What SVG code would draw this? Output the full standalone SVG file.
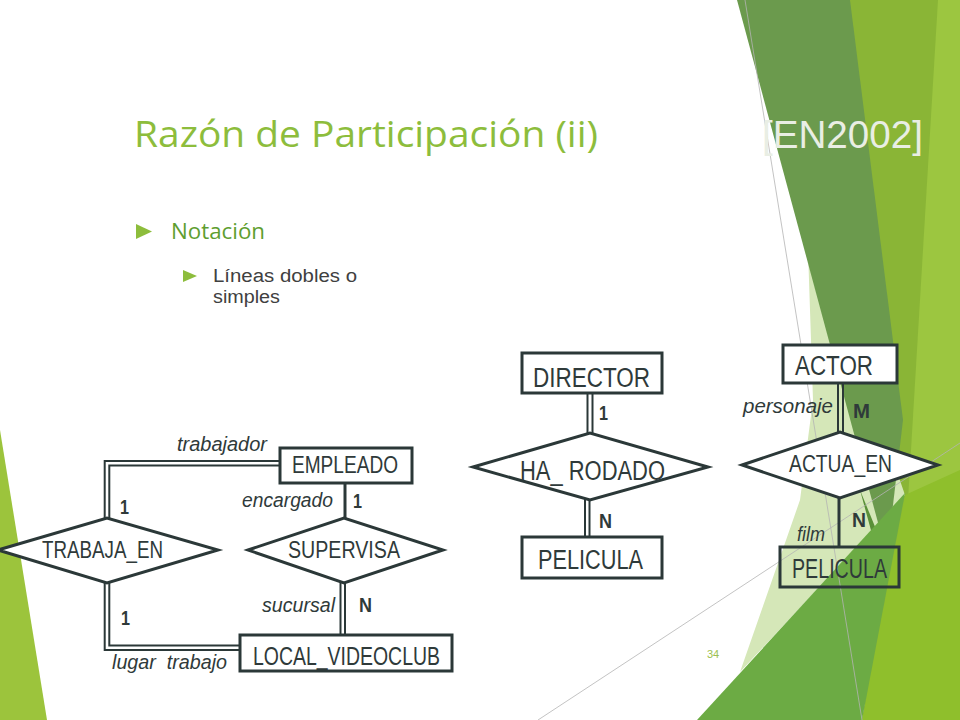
<svg xmlns="http://www.w3.org/2000/svg" width="960" height="720" viewBox="0 0 960 720">
<style>
.box{fill:#fff;stroke:#2b3838;stroke-width:3}
.open{fill:none;stroke:#2b3838;stroke-width:3}
.dia{fill:#fff;stroke:#2b3838;stroke-width:3;stroke-linejoin:miter}
.dbl{fill:none;stroke:#2b3838;stroke-width:2}
.sgl{fill:none;stroke:#2b3838;stroke-width:3}
.lbl{font-family:"Liberation Sans",Arial,sans-serif;fill:#2f3a3a}
.role{font-size:20px;font-style:italic}
.card{font-size:21px;font-weight:bold}
.thin{stroke:#b4b4b4;stroke-width:0.8;fill:none}
</style>
<rect width="960" height="720" fill="#fff"/>
<g id="background">
<polygon points="848,0 960,0 960,720 862,720 887,556" fill="#8ab536"/>
<polygon points="938,0 960,0 960,620 908,500" fill="#9cc640"/>
<polygon points="905,495 960,470 960,720 862,720" fill="#8fbf2c"/>
<polygon points="808,250 855,350 905,495 740,672 800,500 813,400" fill="#d5e7b8"/>
<polygon points="737,0 850,0 903,420 887,556" fill="#6b9a4d"/>
<polygon points="860,490 887,556 875,545" fill="#5a9038"/>
<polygon points="697,720 905,493 862,720" fill="#6cab44"/>
<polygon points="0,430 47,720 0,720" fill="#9cc43c"/>
<line class="thin" x1="745" y1="0" x2="862" y2="720"/>
<line class="thin" x1="538" y1="720" x2="960" y2="443"/>
</g>
<g id="title">
<text x="134" y="147" font-family="'Open Sans',sans-serif" font-size="36" fill="#8dbd3c" textLength="464" lengthAdjust="spacingAndGlyphs">Razón de Participación (ii)</text>
<text x="762" y="148" font-family="'Liberation Sans',Arial,sans-serif" font-size="39" fill="#e9eee4" textLength="161" lengthAdjust="spacingAndGlyphs">[EN2002]</text>
</g>
<g id="bullets">
<polygon points="136,224 152,231.5 136,239" fill="#8dbd3c"/>
<text x="171" y="239" font-family="'Open Sans',sans-serif" font-size="21" fill="#5e9e30" textLength="94" lengthAdjust="spacingAndGlyphs">Notación</text>
<polygon points="183,270 197,276 183,282" fill="#8dbd3c"/>
<text x="213" y="282" font-family="'Liberation Sans',sans-serif" font-size="18" fill="#404040" textLength="144" lengthAdjust="spacingAndGlyphs">Líneas dobles o</text>
<text x="213" y="303" font-family="'Liberation Sans',sans-serif" font-size="18" fill="#404040" textLength="67" lengthAdjust="spacingAndGlyphs">simples</text>
</g>
<g id="connectors">
<path class="dbl" d="M282,461 H104.7 V525"/>
<path class="dbl" d="M282,465.5 H109.3 V525"/>
<path class="dbl" d="M104.7,576 V650 H242"/>
<path class="dbl" d="M109.3,576 V645.5 H242"/>
<path class="sgl" d="M345,481 V522"/>
<path class="dbl" d="M340.5,576 V637"/>
<path class="dbl" d="M345,576 V637"/>
<path class="dbl" d="M587.5,391 V440"/>
<path class="dbl" d="M592.5,391 V440"/>
<path class="dbl" d="M585,494 V539"/>
<path class="dbl" d="M589.5,494 V539"/>
<path class="dbl" d="M838,381 V438"/>
<path class="dbl" d="M843,381 V438"/>
<path class="sgl" d="M839,494 V547"/>
</g>
<g id="labels" class="lbl">
<text class="role" x="177" y="451" textLength="90" lengthAdjust="spacingAndGlyphs">trabajador</text>
<text class="card" x="120" y="514" textLength="9" lengthAdjust="spacingAndGlyphs">1</text>
<text class="role" x="242" y="507" textLength="91" lengthAdjust="spacingAndGlyphs">encargado</text>
<text class="card" x="353" y="508" textLength="9" lengthAdjust="spacingAndGlyphs">1</text>
<text class="role" x="262" y="612" textLength="73" lengthAdjust="spacingAndGlyphs">sucursal</text>
<text class="card" x="359" y="612" textLength="13" lengthAdjust="spacingAndGlyphs">N</text>
<text class="card" x="121" y="625" textLength="9" lengthAdjust="spacingAndGlyphs">1</text>
<text class="role" x="112" y="669" textLength="115" lengthAdjust="spacingAndGlyphs" style="white-space:pre">lugar  trabajo</text>
<text class="card" x="599" y="420" textLength="9" lengthAdjust="spacingAndGlyphs">1</text>
<text class="card" x="599" y="528" textLength="13" lengthAdjust="spacingAndGlyphs">N</text>
<text class="role" x="743" y="413" textLength="90" lengthAdjust="spacingAndGlyphs">personaje</text>
<text class="card" x="853" y="418" textLength="17" lengthAdjust="spacingAndGlyphs">M</text>
<text class="card" x="852" y="527" textLength="14" lengthAdjust="spacingAndGlyphs">N</text>
<text class="role" x="797" y="541" font-size="19" textLength="28" lengthAdjust="spacingAndGlyphs">film</text>
</g>
<g id="EMPLEADO">
<rect class="box" x="280" y="448" width="132" height="35"/>
<text class="lbl" font-size="23" x="292" y="473" textLength="106" lengthAdjust="spacingAndGlyphs">EMPLEADO</text>
</g>
<g id="TRABAJA_EN">
<polygon class="dia" points="-2,550 107,518 218,550 107,583"/>
<text class="lbl" font-size="24" x="42" y="558" textLength="121" lengthAdjust="spacingAndGlyphs">TRABAJA_EN</text>
</g>
<g id="SUPERVISA">
<polygon class="dia" points="248,550 344,518 443,550 344,583"/>
<text class="lbl" font-size="24" x="288" y="558" textLength="112" lengthAdjust="spacingAndGlyphs">SUPERVISA</text>
</g>
<g id="LOCAL_VIDEOCLUB">
<rect class="box" x="240" y="635" width="212" height="36"/>
<text class="lbl" font-size="25" x="253" y="665" textLength="187" lengthAdjust="spacingAndGlyphs">LOCAL_VIDEOCLUB</text>
</g>
<g id="DIRECTOR">
<rect class="box" x="522" y="353" width="140" height="40"/>
<text class="lbl" font-size="27" x="533" y="387" textLength="117" lengthAdjust="spacingAndGlyphs">DIRECTOR</text>
</g>
<g id="HA_RODADO">
<polygon class="dia" points="473,467 590,433 708,467 590,500"/>
<text class="lbl" font-size="27" x="520" y="480" textLength="145" lengthAdjust="spacingAndGlyphs">HA_ RODADO</text>
</g>
<g id="PELICULA_1">
<rect class="box" x="522" y="537" width="140" height="41"/>
<text class="lbl" font-size="27" x="538" y="569" textLength="105" lengthAdjust="spacingAndGlyphs">PELICULA</text>
</g>
<g id="ACTOR">
<rect class="box" x="783" y="345" width="114" height="38"/>
<text class="lbl" font-size="27" x="795" y="375" textLength="78" lengthAdjust="spacingAndGlyphs">ACTOR</text>
</g>
<g id="ACTUA_EN">
<polygon class="dia" points="742,465 840,432 938,465 840,498"/>
<text class="lbl" font-size="23" x="789" y="472" textLength="103" lengthAdjust="spacingAndGlyphs">ACTUA_EN</text>
</g>
<g id="PELICULA_2">
<rect class="open" x="780" y="547" width="119" height="40"/>
<text class="lbl" font-size="27" x="792" y="578" textLength="95" lengthAdjust="spacingAndGlyphs">PELICULA</text>
</g>
<text x="707" y="658" font-family="'Liberation Sans',Arial,sans-serif" font-size="11" fill="#9bbf50">34</text>
</svg>
